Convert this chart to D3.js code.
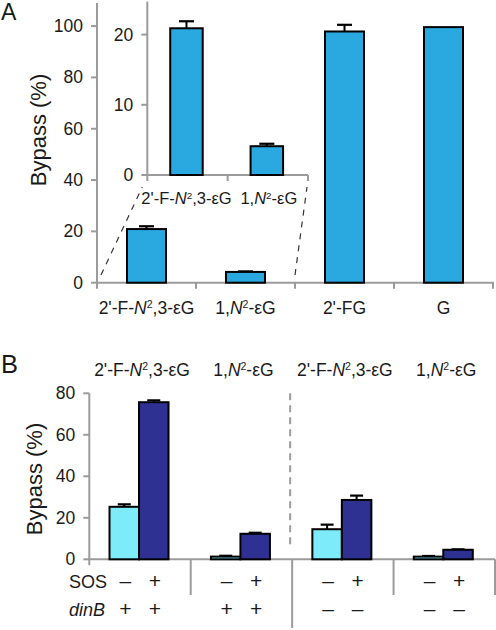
<!DOCTYPE html>
<html><head><meta charset="utf-8">
<script src="https://cdn.jsdelivr.net/npm/d3@7"></script>
<style>body{margin:0;background:#fff}svg{display:block}text{font-family:"Liberation Sans",Arial,sans-serif;fill:#1a1a1a}</style>
</head><body>
<svg id="c" width="496" height="630"></svg>
<script>
// ---- Data ----
const catsA = ["2'-F-N²,3-εG", "1,N²-εG", "2'-FG", "G"];
const valsA = [20.9, 4.2, 97.9, 99.6];
const errA  = [1.1, 0.2, 2.6, 0];
const ticksA = [0, 20, 40, 60, 80, 100];

const catsInset = ["2'-F-N²,3-εG", "1,N²-εG"];
const valsInset = [20.9, 4.1];
const errInset  = [1.0, 0.35];
const ticksInset = [0, 10, 20];

const catsB = ["2'-F-N²,3-εG", "1,N²-εG", "2'-F-N²,3-εG", "1,N²-εG"];
const sosMinus = [25.3, 1.3, 14.5, 1.3];
const sosMinusErr = [1.2, 0.4, 2.2, 0.3];
const sosPlus = [75.7, 12.3, 28.6, 4.6];
const sosPlusErr = [0.9, 0.5, 2.1, 0.2];
const sosRow = [["–", "+"], ["–", "+"], ["–", "+"], ["–", "+"]];
const dinBRow = [["+", "+"], ["+", "+"], ["–", "–"], ["–", "–"]];
const ticksB = [0, 20, 40, 60, 80];

const cA = "#2AA9E0", cLight = "#7DEBF9", cDark = "#2E3192";
const axisCol = "#9b9b9b";
const svg = d3.select("#c");

function richLabel(sel, s) {
  const parts = s.split("N²");
  let afterSup = false;
  parts.forEach((p, i) => {
    if (p) {
      const t = sel.append("tspan").text(p);
      if (afterSup) t.attr("dy", "0.33em");
    }
    afterSup = false;
    if (i < parts.length - 1) {
      sel.append("tspan").attr("font-style", "italic").text("N");
      sel.append("tspan").attr("font-size", "0.6em").attr("dy", "-0.55em").text("2");
      afterSup = true;
    }
  });
}

function yAxis(g, y, ticks, x0, fs) {
  g.append("line").attr("x1", x0).attr("x2", x0).attr("y1", y.range()[0]).attr("y2", y.range()[1])
    .attr("stroke", axisCol).attr("stroke-width", 2);
  ticks.forEach(t => {
    g.append("line").attr("x1", x0 - 6).attr("x2", x0).attr("y1", y(t)).attr("y2", y(t))
      .attr("stroke", axisCol).attr("stroke-width", 2);
    g.append("text").attr("x", x0 - 14).attr("y", y(t) + 6).attr("text-anchor", "end")
      .attr("font-size", fs).text(t);
  });
}

function errBar(g, cx, yTop, yErr, capW) {
  g.append("line").attr("x1", cx).attr("x2", cx).attr("y1", yTop).attr("y2", yErr)
    .attr("stroke", "#000").attr("stroke-width", 2);
  g.append("line").attr("x1", cx - capW / 2).attr("x2", cx + capW / 2).attr("y1", yErr).attr("y2", yErr)
    .attr("stroke", "#000").attr("stroke-width", 2.2);
}

// ---- Panel A main ----
const yA = d3.scaleLinear().domain([0, 109]).range([282.7, 3]);
const gA = svg.append("g");
yAxis(gA, yA, ticksA, 97, 17.5);
gA.append("line").attr("x1", 96).attr("x2", 494).attr("y1", yA(0)).attr("y2", yA(0))
  .attr("stroke", axisCol).attr("stroke-width", 2);
const stepA = (493 - 97) / catsA.length;
d3.range(catsA.length + 1).forEach(i => {
  const x = 97 + i * stepA;
  gA.append("line").attr("x1", x).attr("x2", x).attr("y1", yA(0)).attr("y2", yA(0) + 6)
    .attr("stroke", axisCol).attr("stroke-width", 2);
});
catsA.forEach((c, i) => {
  const cx = 97 + (i + 0.5) * stepA;
  const bw = 39;
  if (errA[i] > 0) errBar(gA, cx, yA(valsA[i]), yA(valsA[i] + errA[i]), 15);
  gA.append("rect").attr("x", cx - bw / 2).attr("y", yA(valsA[i])).attr("width", bw)
    .attr("height", yA(0) - yA(valsA[i])).attr("fill", cA).attr("stroke", "#000").attr("stroke-width", 2);
  const t = gA.append("text").attr("x", cx).attr("y", 314).attr("text-anchor", "middle").attr("font-size", 17.5);
  richLabel(t, c);
});

// ---- Inset ----
const yI = d3.scaleLinear().domain([0, 24.7]).range([175, 1.6]);
const gI = svg.append("g");
const x0I = 147.3, x1I = 308, stepI = (x1I - x0I) / catsInset.length;
yAxis(gI, yI, ticksInset, x0I, 17.5);
gI.append("line").attr("x1", x0I - 1).attr("x2", x1I).attr("y1", yI(0)).attr("y2", yI(0))
  .attr("stroke", axisCol).attr("stroke-width", 2);
d3.range(catsInset.length + 1).forEach(i => {
  const x = x0I + i * stepI;
  gI.append("line").attr("x1", x).attr("x2", x).attr("y1", yI(0)).attr("y2", yI(0) + 6)
    .attr("stroke", axisCol).attr("stroke-width", 2);
});
catsInset.forEach((c, i) => {
  const cx = x0I + (i + 0.5) * stepI - 1;
  const bw = 32.5;
  errBar(gI, cx, yI(valsInset[i]), yI(valsInset[i] + errInset[i]), 15);
  gI.append("rect").attr("x", cx - bw / 2).attr("y", yI(valsInset[i])).attr("width", bw)
    .attr("height", yI(0) - yI(valsInset[i])).attr("fill", cA).attr("stroke", "#000").attr("stroke-width", 2);
  const t = gI.append("text").attr("x", cx + (i === 1 ? 2 : 0)).attr("y", 204).attr("text-anchor", "middle").attr("font-size", 16.5);
  richLabel(t, c);
});
// zoom connector lines
const dash = svg.append("g").attr("stroke", "#333").attr("stroke-width", 1.2).attr("stroke-dasharray", "6,6");
dash.append("line").attr("x1", 101).attr("y1", yA(3)).attr("x2", x0I - 5).attr("y2", yI(0) + 12);
dash.append("line").attr("x1", 97 + 2 * stepA).attr("y1", yA(3)).attr("x2", x1I - 1).attr("y2", yI(0) + 12);

// ---- Panel B ----
const x0B = 89.3, x1B = 495, stepB = (x1B - x0B) / catsB.length;
const yB = d3.scaleLinear().domain([0, 80]).range([559.3, 393.3]);
const gB = svg.append("g");
yAxis(gB, yB, ticksB, x0B, 17.5);
gB.append("line").attr("x1", x0B - 1).attr("x2", x1B).attr("y1", yB(0)).attr("y2", yB(0))
  .attr("stroke", axisCol).attr("stroke-width", 2);
gB.append("line").attr("x1", x0B).attr("x2", x0B).attr("y1", yB(0)).attr("y2", yB(0) + 6)
  .attr("stroke", axisCol).attr("stroke-width", 2);
d3.range(1, catsB.length + 1).forEach(i => {
  const x = x0B + i * stepB;
  gB.append("line").attr("x1", x).attr("x2", x).attr("y1", yB(0)).attr("y2", i === 2 ? 628 : 595)
    .attr("stroke", axisCol).attr("stroke-width", 2);
});
const bwB = 29.5;
catsB.forEach((c, i) => {
  const cx = x0B + (i + 0.5) * stepB - 1;
  const xl = cx - bwB, xr = cx;
  errBar(gB, xl + bwB / 2, yB(sosMinus[i]), yB(sosMinus[i] + sosMinusErr[i]), 13);
  errBar(gB, xr + bwB / 2, yB(sosPlus[i]), yB(sosPlus[i] + sosPlusErr[i]), 13);
  gB.append("rect").attr("x", xl).attr("y", yB(sosMinus[i])).attr("width", bwB)
    .attr("height", yB(0) - yB(sosMinus[i])).attr("fill", cLight).attr("stroke", "#000").attr("stroke-width", 2);
  gB.append("rect").attr("x", xr).attr("y", yB(sosPlus[i])).attr("width", bwB)
    .attr("height", yB(0) - yB(sosPlus[i])).attr("fill", cDark).attr("stroke", "#000").attr("stroke-width", 2);
  const t = gB.append("text").attr("x", cx + 3).attr("y", 376).attr("text-anchor", "middle").attr("font-size", 17.5);
  richLabel(t, c);
  [0, 1].forEach(k => {
    const sx = (k === 0 ? xl : xr) + bwB / 2 + 1;
    gB.append("text").attr("x", sx).attr("y", 588).attr("text-anchor", "middle").attr("font-size", 21).text(sosRow[i][k]);
    gB.append("text").attr("x", sx).attr("y", 616).attr("text-anchor", "middle").attr("font-size", 21).text(dinBRow[i][k]);
  });
});
gB.append("text").attr("x", 107).attr("y", 588).attr("text-anchor", "end").attr("font-size", 18).text("SOS");
gB.append("text").attr("x", 105).attr("y", 616).attr("text-anchor", "end").attr("font-size", 18).attr("font-style", "italic").text("dinB");
gB.append("line").attr("x1", x0B + 2 * stepB - 2).attr("x2", x0B + 2 * stepB - 2).attr("y1", yB(80)).attr("y2", yB(7))
  .attr("stroke", axisCol).attr("stroke-width", 2).attr("stroke-dasharray", "7,5");

// titles
svg.append("text").attr("transform", "translate(46,130) rotate(-90)").attr("text-anchor", "middle").attr("font-size", 22).text("Bypass (%)");
svg.append("text").attr("transform", "translate(42,479) rotate(-90)").attr("text-anchor", "middle").attr("font-size", 22).text("Bypass (%)");
svg.append("text").attr("x", 1).attr("y", 20).attr("font-size", 23).text("A");
svg.append("text").attr("x", 1).attr("y", 373).attr("font-size", 25.5).text("B");
</script>
</body></html>
